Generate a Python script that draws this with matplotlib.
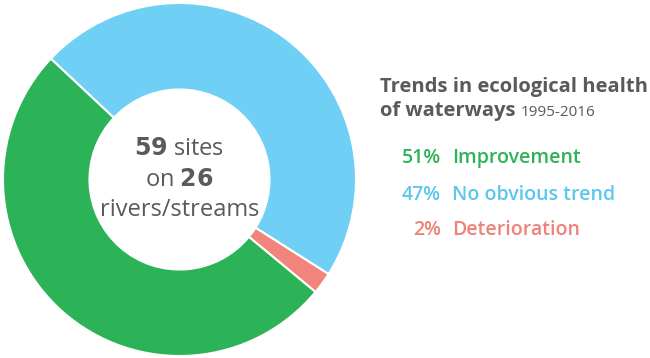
import matplotlib
matplotlib.use("Agg")
import matplotlib.pyplot as plt

# trend categories, shares in percent
labels = ["Improvement", "No obvious trend", "Deterioration"]
shares = [51, 47, 2]
colours = ["#2db357", "#6fcff5", "#f1857b"]
text_colours = ["#2db357", "#5cc6f0", "#ef8177"]

plt.rcParams["font.family"] = ["Open Sans", "DejaVu Sans"]
grey = "#5a5a5a"

fig = plt.figure(figsize=(6.5, 3.58), dpi=100)

# donut, drawn clockwise: blue, red, then green
ax = fig.add_axes([3 / 650, 2 / 358, 353 / 650, 353 / 358])
order = [1, 2, 0]
ax.pie([shares[i] for i in order], colors=[colours[i] for i in order],
       startangle=136.8, counterclock=False, radius=1.0,
       wedgeprops=dict(width=0.49, edgecolor="white", linewidth=1.5))
ax.set_xlim(-1, 1)
ax.set_ylim(-1, 1)
ax.set_aspect("equal")
ax.axis("off")

# centre text
ax.text(0, 0.17, "$\\bf{59}$ sites", ha="center", va="center", fontsize=17, color=grey)
ax.text(0, -0.005, "on $\\bf{26}$", ha="center", va="center", fontsize=17, color=grey)
ax.text(0, -0.17, "rivers/streams", ha="center", va="center", fontsize=17, color=grey)

# title and legend on the right
fig.text(380 / 650, 1 - 87 / 358, "Trends in ecological health", ha="left", va="center",
         fontsize=14.5, fontweight="bold", color=grey)
fig.text(380 / 650, 1 - 111 / 358, "of waterways", ha="left", va="center",
         fontsize=14.5, fontweight="bold", color=grey)
fig.text(521 / 650, 1 - 112 / 358, "1995-2016", ha="left", va="center",
         fontsize=11, color=grey)

ys = [158, 195, 230]
for lab, sh, col, y in zip(labels, shares, text_colours, ys):
    fig.text(441 / 650, 1 - y / 358, f"{sh}%", ha="right", va="center",
             fontsize=14, fontweight="semibold", color=col)
    fig.text(452 / 650, 1 - y / 358, lab, ha="left", va="center",
             fontsize=14, fontweight="semibold", color=col)

fig.savefig("out.png", dpi=100, facecolor="white")
